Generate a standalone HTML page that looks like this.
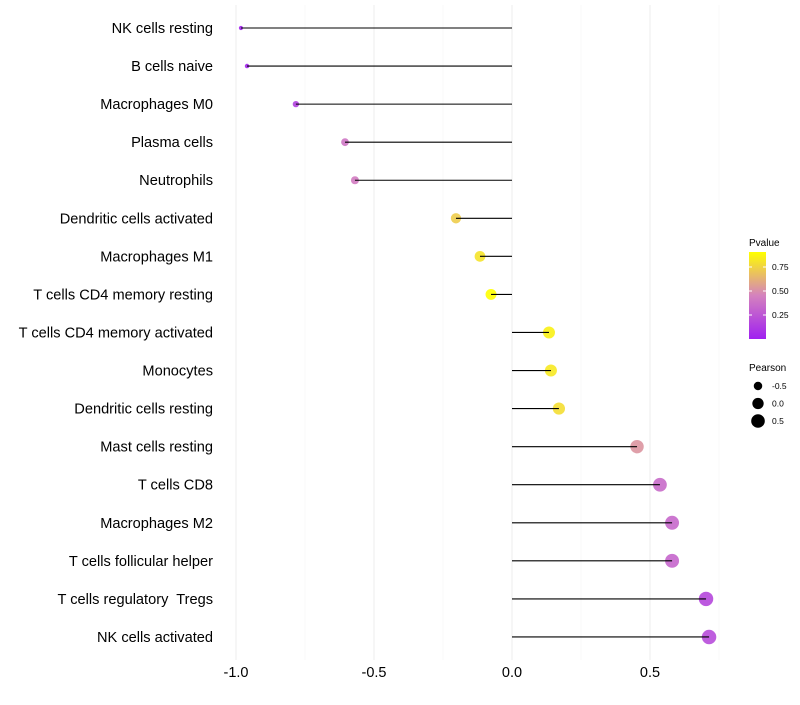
<!DOCTYPE html>
<html><head><meta charset="utf-8"><style>
body{margin:0;background:#fff;font-family:"Liberation Sans",sans-serif}
text{white-space:pre}
</style></head><body>
<svg id="c" width="800" height="700" xmlns="http://www.w3.org/2000/svg"></svg>
<script>
const categories=["NK cells resting","B cells naive","Macrophages M0","Plasma cells","Neutrophils","Dendritic cells activated","Macrophages M1","T cells CD4 memory resting","T cells CD4 memory activated","Monocytes","Dendritic cells resting","Mast cells resting","T cells CD8","Macrophages M2","T cells follicular helper","T cells regulatory  Tregs","NK cells activated"];
const pearson=[-0.982,-0.96,-0.783,-0.605,-0.569,-0.203,-0.116,-0.076,0.134,0.141,0.17,0.453,0.536,0.58,0.58,0.703,0.714];
const pvalue=[0.02,0.03,0.15,0.4,0.42,0.72,0.8,0.9,0.85,0.82,0.78,0.52,0.35,0.33,0.32,0.18,0.2];
const xTicks=[-1.0,-0.5,0.0,0.5];
const xTickLabels=["-1.0","-0.5","0.0","0.5"];
const minorTicks=[-0.75,-0.25,0.25,0.75];
const legendP=[0.25,0.5,0.75];
const legendS=[-0.5,0,0.5];

const svg=document.getElementById('c');const NS="http://www.w3.org/2000/svg";
function mk(t,a,p){const e=document.createElementNS(NS,t);for(const k in a)e.setAttribute(k,a[k]);(p||svg).appendChild(e);return e;}
const X=v=>512+v*276;
const Y=i=>28+i*38.06;
const R=v=>Math.sqrt(4.5+(v+0.98)/1.7*48);
function col(p){const t=Math.max(0,Math.min(1,p/0.9));const a=[160,32,240],m=[212,130,190],b=[255,255,0];let c;
 if(t<0.5){const u=t/0.5;c=a.map((x,i)=>x+(m[i]-x)*u);}else{const u=(t-0.5)/0.5;c=m.map((x,i)=>x+(b[i]-x)*u);}
 return `rgb(${c.map(Math.round).join(',')})`;}
minorTicks.forEach(v=>{const g=mk('line',{x1:X(v),x2:X(v),y1:5,y2:660,stroke:'#f4f4f4','stroke-width':0.6});

});
xTicks.forEach((v,i)=>{const g=mk('line',{x1:X(v),x2:X(v),y1:5,y2:660,stroke:'#eeeeee','stroke-width':1});


const t=mk('text',{x:X(v),y:677,'text-anchor':'middle','font-size':14.5,fill:'#000'});t.textContent=xTickLabels[i];

});
categories.forEach((c,i)=>{const y=Y(i);
 const t=mk('text',{x:213,y:y+5,'text-anchor':'end','font-size':14.6,fill:'#000'});t.textContent=c;
 
 
 const d=mk('circle',{cx:X(pearson[i]),cy:y,r:R(pearson[i]),fill:col(pvalue[i]),'fill-opacity':0.9});
 
 
 const l=mk('line',{x1:X(0),x2:X(pearson[i]),y1:y,y2:y,stroke:'#000','stroke-width':1.1});
 
 
});
let t=mk('text',{x:749,y:246,'font-size':10});t.textContent='Pvalue';

const defs=mk('defs',{});const gr=mk('linearGradient',{id:'g',x1:0,y1:1,x2:0,y2:0},defs);
[0,0.5,1].forEach(o=>mk('stop',{offset:o,'stop-color':col(o*0.9)},gr));
const bar=mk('rect',{x:749,y:252,width:17,height:87,fill:'url(#g)'});

legendP.forEach(p=>{const y=339-p/0.25*24;
 mk('line',{x1:749,x2:752,y1:y,y2:y,stroke:'#fff'});mk('line',{x1:763,x2:766,y1:y,y2:y,stroke:'#fff'});
 const s=mk('text',{x:772,y:y+3,'font-size':8.5});s.textContent=p.toFixed(2);
 });
t=mk('text',{x:749,y:371,'font-size':10});t.textContent='Pearson';

legendS.forEach((v,i)=>{const y=386+i*17.5;
 const c=mk('circle',{cx:758,cy:y,r:R(v)});
 
 const s=mk('text',{x:772,y:y+3,'font-size':8.5});s.textContent=v===0?'0.0':String(v);
 });
</script>
</body></html>
